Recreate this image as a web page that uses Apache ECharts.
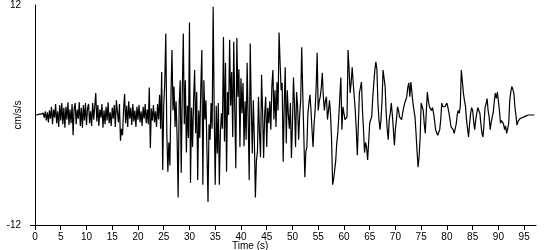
<!DOCTYPE html>
<html>
<head>
<meta charset="utf-8">
<script src="https://cdn.jsdelivr.net/npm/echarts@6/dist/echarts.min.js"></script>
<style>html,body{margin:0;padding:0;background:#fff}#c{width:550px;height:250px}</style>
</head>
<body>
<div id="c"></div>
<script>
// Sample interval (s)
const dt = 0.2;
// Acceleration record (cm/s/s), one value every dt seconds starting at t = 0
const accel = [
 0, 0, 0, 0.1, 0.1,
 0.1, 0.1, 0.1, 0.2, -0.3,
 0.4, -0.6, 0.3, -0.8, 0.5,
 -0.4, 0.9, -1.0, 0.6, -0.3,
 1.2, -0.9, 0.4, -1.3, 1.1,
 -0.6, 1.3, -1.0, 0.8, -1.4,
 0.9, -0.5, 1.4, -1.1, 0.6,
 -0.9, 1.2, -2.2, 0.7, 1.3,
 -1.0, 0.6, -0.4, 1.4, -1.2,
 0.8, -1.4, 1.1, -0.6, 1.3,
 -1.1, 0.7, 1.2, -0.9, 0.4,
 -1.2, 1.3, -0.5, 0.9, 2.4,
 -0.7, 1.1, -1.2, 0.6, -0.3,
 1.2, -1.4, 0.5, -1.0, 0.9,
 -0.6, 1.4, -0.9, 0.3, -1.2,
 0.8, -0.4, 1.1, -1.3, 1.6,
 0.3, -0.8, 1.2, -2.8, -1.5,
 -2.2, 0.6, 2.3, -0.9, 1.0,
 -1.3, 1.5, -0.4, 0.8, -1.1,
 1.2, -0.7, 0.5, -1.3, 0.9,
 -0.5, 1.1, -0.8, 0.4, -1.2,
 0.9, -0.4, 1.2, -0.9, 0.6,
 -1.0, 3.0, -3.6, 0.7, -0.6,
 1.1, -0.8, 0.4, -1.3, 1.2,
 -0.5, 2.2, -1.5, 4.7, -6.0,
 1.0, 3.5, 8.9, -2.0, -6.2,
 -3.0, -5.5, 2.0, 7.1, 0.5,
 3.1, -1.3, 1.5, -2.5, -9.0,
 1.2, 3.8, -6.3, 2.5, 8.9,
 -1.0, 3.8, -4.1, 1.0, -2.5,
 10.1, -7.4, 0.8, -3.5, 1.6,
 4.9, -2.0, 2.5, -7.1, 0.5,
 -2.5, 3.0, 7.1, -7.6, 3.8,
 -0.5, 1.6, -4.0, -9.5, -1.0,
 -2.7, 1.3, -1.5, 11.8, 0.5,
 -7.6, 1.0, -4.2, 1.3, -7.6,
 -2.0, 0.2, -1.5, 8.5, -2.9,
 5.7, -6.2, 2.5, 0.0, 8.2,
 1.0, 4.7, -2.4, 8.0, 0.5,
 -5.8, 8.4, 2.0, 5.0, -3.5,
 4.0, 0.2, 3.5, -3.4, 1.5,
 -2.7, 5.7, -0.5, -7.1, 7.8,
 1.0, -4.2, 1.6, -2.7, -9.0,
 -5.0, -4.0, 2.0, -2.0, -4.6,
 4.4, 0.5, -4.7, 0.0, 2.0,
 -3.5, 0.8, -0.9, 1.5, -1.6,
 3.1, 4.9, -0.5, 2.7, -1.3,
 3.6, 0.5, 9.0, 5.7, 2.7,
 3.5, -5.1, 1.0, 5.2, -3.1,
 2.7, 0.0, -1.5, 1.3, -4.7,
 -1.0, 4.1, 1.0, -3.5, 2.5,
 1.0, -2.7, 0.0, 1.6, 7.4,
 2.4, -2.0, -6.8, -4.0, -3.5,
 0.2, 1.3, 2.2, 0.5, -1.6,
 -3.5, -1.0, 0.5, 3.0, 6.8,
 0.5, 1.5, 2.0, 3.0, 4.6,
 2.0, 0.5, 1.5, 2.0, -0.5,
 0.5, 1.6, 0.0, -2.7, -7.6,
 -7.0, -7.1, -5.0, -3.1, -2.0,
 -0.2, 2.0, 4.1, -1.6, 0.9,
 0.2, -0.5, -0.3, -0.2, 7.1,
 5.0, 2.4, 3.5, 5.2, 3.5,
 2.0, 0.5, -1.6, -4.4, -1.0,
 2.4, 3.0, 3.6, 0.5, -1.6,
 -4.1, -3.0, -3.5, -4.9, -3.0,
 -0.9, -0.5, -0.2, 2.0, 3.5,
 4.9, 5.8, 5.0, 1.3, -0.5,
 -1.6, -0.5, 1.6, 4.9, 4.0,
 3.1, 0.2, -1.5, -2.7, -0.5,
 0.2, 1.3, 0.0, -1.6, -3.3,
 -1.5, -0.5, 0.9, 0.5, -0.2,
 -0.3, -0.5, 0.2, 0.8, 1.3,
 1.6, 2.0, 3.0, 3.5, 2.0,
 3.6, 2.5, 1.3, 0.5, -0.2,
 -2.0, -4.0, -5.7, -4.5, -2.4,
 1.3, 0.9, 0.5, -1.0, -2.0,
 0.5, 2.5, 1.5, 0.9, 1.0,
 0.5, 0.8, 0.2, -0.6, -1.6,
 -1.8, -2.2, -2.4, -1.6, -0.5,
 1.3, 0.9, 1.1, 0.9, 1.1,
 1.3, 0.8, 0.2, -0.5, -1.3,
 -1.2, -1.6, -2.0, -1.5, -1.0,
 0.0, 0.5, 0.2, 1.0, 4.9,
 4.7, 2.4, 1.6, 1.0, -0.5,
 -1.5, -2.4, -1.0, 0.2, 0.8,
 0.5, -0.8, -1.6, -0.5, 0.2,
 0.8, 0.6, 0.2, -1.0, -2.0,
 -2.4, -1.0, 0.8, 1.2, 1.8,
 0.5, -0.2, -1.6, -0.8, -0.2,
 0.3, 1.5, 2.4, 1.8, 2.5,
 1.5, 0.5, -0.9, -0.6, -0.5,
 -1.0, -1.6, -1.2, -2.0, -1.5,
 -0.9, 1.6, 2.5, 3.1, 2.8,
 2.4, 0.9, 0.0, -1.1, -0.7,
 -0.5, -0.4, -0.2, -0.3, -0.1,
 -0.2, 0.0, -0.1, 0.0, 0.0,
 0.0, 0.0, 0.0, 0.0, 0.0,
 0.0
];
// Axis ticks
const xTicks = [0, 5, 10, 15, 20, 25, 30, 35, 40, 45, 50, 55, 60, 65, 70, 75, 80, 85, 90, 95];
const yTickLabels = [-12, 12];
const xMax = 97.3;
const yLimit = 12;
const xTitle = 'Time (s)';
const yTitle = 'cm/s/s';

const seriesData = accel.map((v, i) => [Math.round(i * dt * 10) / 10, v]);
const font = 'Liberation Sans';
const chart = echarts.init(document.getElementById('c'), null, {renderer: 'canvas'});
chart.setOption({
  animation: false,
  backgroundColor: '#ffffff',
  title: {
    text: xTitle, left: 232, top: 241, padding: 0,
    textStyle: {fontFamily: font, fontSize: 10, fontWeight: 'normal', color: '#000'}
  },
  grid: {left: 35, right: 14, top: 5, bottom: 25, containLabel: false, outerBoundsMode: 'none'},
  xAxis: {
    type: 'value', min: 0, max: xMax,
    axisLine: {onZero: false, lineStyle: {color: '#000', width: 1}},
    axisTick: {show: true, length: 5, customValues: xTicks, lineStyle: {color: '#000'}},
    axisLabel: {customValues: xTicks, color: '#000', fontFamily: font, fontSize: 10, margin: 7},
    splitLine: {show: false}
  },
  yAxis: {
    type: 'value', min: -yLimit, max: yLimit,
    name: yTitle, nameLocation: 'middle', nameRotate: 90, nameGap: 12, nameMoveOverlap: false,
    nameTextStyle: {fontFamily: font, fontSize: 10, color: '#000'},
    axisLine: {show: true, onZero: false, lineStyle: {color: '#000', width: 1}},
    axisTick: {show: true, length: 5, customValues: [-yLimit], lineStyle: {color: '#000'}},
    axisLabel: {customValues: yTickLabels, color: '#000', fontFamily: font, fontSize: 10, margin: 14},
    splitLine: {show: false}
  },
  series: [{
    type: 'line', data: seriesData, showSymbol: false, symbol: 'none',
    lineStyle: {color: '#000', width: 1.2}, silent: true
  }]
});
</script>
</body>
</html>
